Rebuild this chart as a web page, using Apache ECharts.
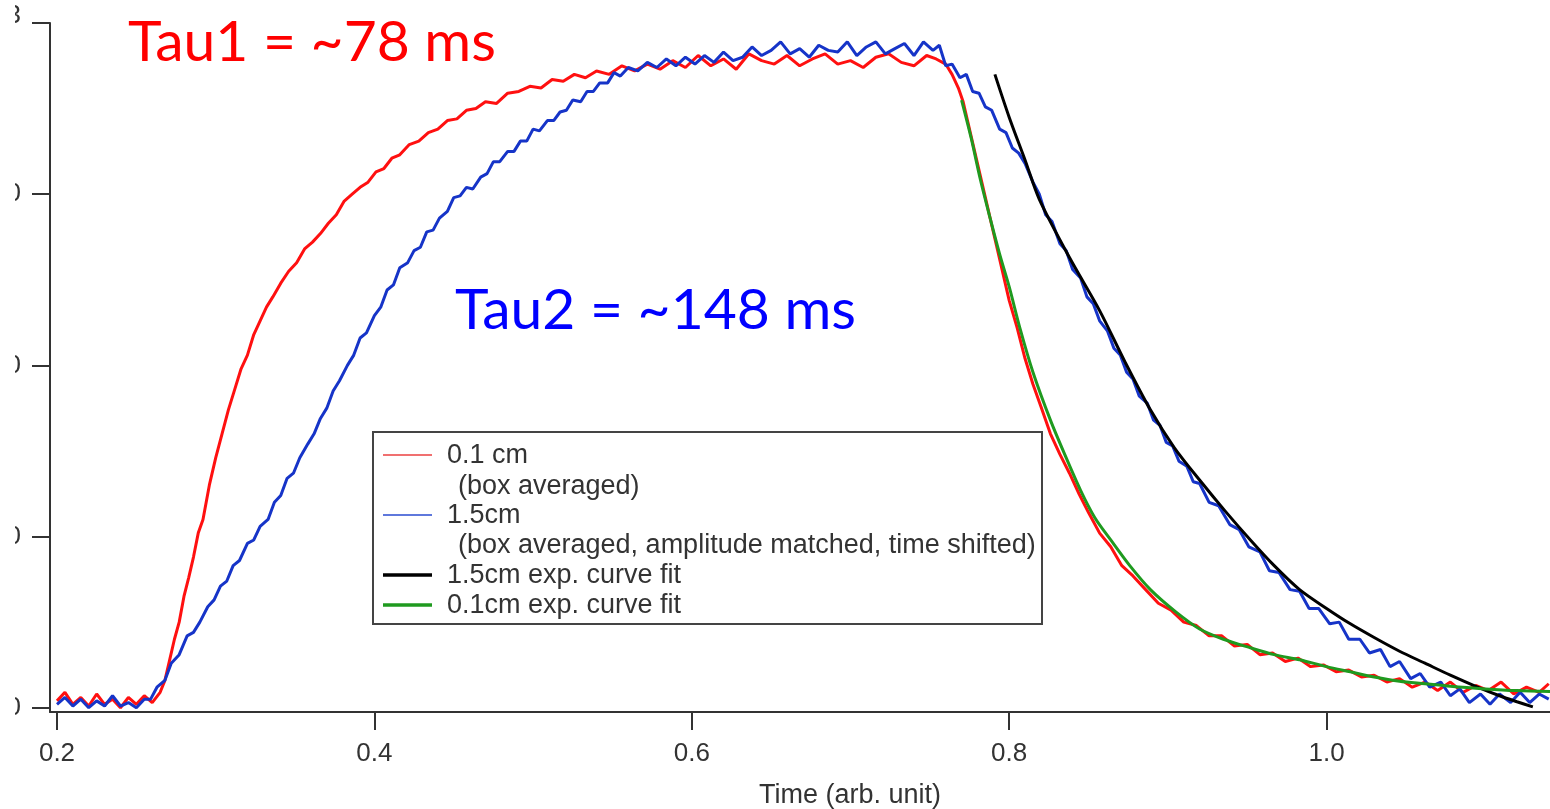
<!DOCTYPE html>
<html><head><meta charset="utf-8">
<script src="https://cdn.jsdelivr.net/npm/echarts@6/dist/echarts.min.js"></script>
<style>html,body{margin:0;padding:0;background:#fff;overflow:hidden}
#c{position:absolute;left:15px;top:0;width:1535px;height:809px}</style>
</head><body><div id="c"></div>
<script>
// ---- data ----
const xTicks = [0.2, 0.4, 0.6, 0.8, 1.0];
const xTickLabels = ['0.2', '0.4', '0.6', '0.8', '1.0'];
const yTicks = [0, 10, 20, 30, 40];
const yTickLabels = ['0', '10', '20', '30', '3'];
const xTitle = 'Time (arb. unit)';

const red01 = [
[0.200,0.4],[0.205,0.9],[0.210,0.2],[0.215,0.6],[0.220,0.1],[0.225,0.8],[0.230,0.2],[0.235,0.5],[0.240,0.0],[0.245,0.6],[0.250,0.2],[0.255,0.7],[0.260,0.3],[0.265,0.9],
[0.268,1.6],[0.271,2.8],[0.274,4.0],[0.277,5.0],[0.280,6.5],[0.283,7.6],[0.286,8.8],[0.289,10.2],[0.292,11.0],[0.296,13.0],[0.300,14.6],[0.304,16.0],[0.308,17.4],[0.312,18.6],[0.316,19.8],[0.320,20.6],[0.324,21.8],[0.328,22.6],[0.332,23.4],[0.336,24.0],[0.341,24.8],[0.346,25.5],[0.351,26.0],[0.356,26.8],[0.361,27.2],[0.366,27.7],[0.371,28.3],[0.376,28.8],[0.381,29.6],[0.386,30.0],[0.391,30.4],[0.396,30.7],[0.401,31.3],[0.406,31.5],[0.411,32.1],[0.416,32.3],[0.422,32.9],[0.428,33.1],[0.434,33.6],[0.440,33.8],[0.446,34.3],[0.452,34.4],[0.458,34.9],[0.464,35.0],[0.470,35.4],[0.477,35.3],[0.484,35.9],[0.491,36.0],[0.498,36.3],[0.505,36.2],[0.512,36.7],[0.519,36.6],[0.526,37.0],[0.533,36.8],[0.540,37.2],[0.548,37.0],[0.556,37.5],[0.564,37.2],[0.572,37.6],[0.580,37.3],[0.588,37.8],[0.596,37.4],[0.604,38.1],[0.612,37.5],[0.620,37.9],[0.628,37.3],[0.636,38.2],[0.644,37.8],[0.652,37.6],[0.660,38.1],[0.668,37.5],[0.676,37.9],[0.684,38.2],[0.692,37.6],[0.700,37.8],[0.708,37.4],[0.716,38.0],[0.724,38.2],[0.732,37.7],[0.740,37.5],[0.748,38.1],[0.754,37.9],[0.760,37.6],
[0.764,37.0],[0.768,36.2],[0.771,35.4],[0.774,34.2],[0.777,33.0],[0.780,31.8],[0.783,30.6],[0.786,29.4],[0.789,28.2],[0.792,27.0],[0.796,25.4],[0.800,23.8],[0.805,22.2],[0.810,20.4],[0.815,18.9],[0.820,17.6],[0.826,16.0],[0.832,14.8],[0.838,13.7],[0.844,12.5],[0.850,11.4],[0.857,10.2],[0.864,9.4],[0.871,8.3],[0.878,7.7],[0.886,6.9],[0.894,6.1],[0.902,5.7],[0.910,5.0],[0.918,4.8],[0.926,4.2],[0.934,4.2],[0.942,3.6],[0.950,3.7],[0.958,3.1],[0.966,3.2],[0.974,2.7],[0.982,2.9],[0.990,2.4],[0.998,2.5],[1.006,2.1],[1.014,2.2],[1.022,1.8],[1.030,1.9],[1.038,1.5],[1.046,1.7],[1.054,1.2],[1.062,1.5],[1.070,1.0],[1.078,1.5],[1.086,0.9],[1.094,1.3],[1.102,1.0],[1.110,1.5],[1.118,0.8],[1.126,1.2],[1.134,0.9],[1.140,1.4]
];

const blue15 = [
[0.200,0.2],[0.205,0.6],[0.210,0.1],[0.215,0.5],[0.220,0.0],[0.225,0.4],[0.230,0.1],[0.235,0.7],[0.240,0.1],[0.245,0.3],[0.250,0.0],[0.255,0.5],
[0.259,0.5],[0.263,1.2],[0.268,1.6],[0.272,2.6],[0.277,3.1],[0.282,4.2],[0.286,4.4],[0.290,5.0],[0.295,5.9],[0.299,6.3],[0.303,7.1],[0.307,7.4],[0.311,8.3],[0.315,8.6],[0.320,9.6],[0.324,9.8],[0.328,10.6],[0.333,11.0],[0.337,12.0],[0.341,12.4],[0.345,13.4],[0.349,13.7],[0.353,14.6],[0.358,15.4],[0.362,16.0],[0.366,16.9],[0.370,17.5],[0.374,18.5],[0.378,19.1],[0.383,20.0],[0.387,20.6],[0.391,21.6],[0.395,21.9],[0.400,22.9],[0.404,23.4],[0.408,24.4],[0.412,24.7],[0.416,25.7],[0.421,26.0],[0.425,26.7],[0.429,26.9],[0.433,27.8],[0.437,27.9],[0.441,28.6],[0.446,29.0],[0.450,29.8],[0.454,29.9],[0.458,30.4],[0.462,30.3],[0.467,31.0],[0.471,31.2],[0.475,31.9],[0.479,31.9],[0.484,32.5],[0.488,32.5],[0.492,33.1],[0.496,33.1],[0.500,33.8],[0.504,33.7],[0.509,34.3],[0.513,34.3],[0.517,34.8],[0.521,34.9],[0.525,35.5],[0.530,35.4],[0.534,36.0],[0.538,36.0],[0.542,36.5],[0.547,36.5],[0.551,37.1],[0.555,36.9],[0.560,37.4],[0.566,37.2],[0.572,37.7],[0.578,37.4],[0.584,37.9],[0.590,37.5],[0.596,38.0],[0.602,37.6],[0.608,38.1],[0.614,37.7],[0.620,38.3],[0.626,37.8],[0.632,38.0],[0.638,38.6],[0.644,38.1],[0.650,38.4],[0.656,38.9],[0.662,38.2],[0.668,38.5],[0.674,38.0],[0.680,38.7],[0.686,38.4],[0.692,38.3],[0.698,38.9],[0.704,38.1],[0.710,38.6],[0.716,38.9],[0.722,38.2],[0.728,38.5],[0.734,38.8],[0.740,38.1],[0.746,38.9],[0.752,38.4],[0.756,38.7],
[0.760,37.5],[0.764,37.6],[0.769,36.8],[0.773,37.0],[0.777,36.0],[0.781,35.9],[0.785,35.1],[0.789,34.9],[0.794,33.8],[0.798,33.6],[0.802,32.7],[0.806,32.4],[0.810,31.8],[0.815,30.7],[0.819,30.0],[0.823,28.8],[0.827,28.4],[0.832,27.1],[0.836,26.7],[0.840,25.6],[0.845,25.1],[0.849,24.0],[0.853,23.6],[0.857,22.6],[0.862,22.0],[0.866,21.0],[0.870,20.6],[0.874,19.6],[0.878,19.2],[0.882,18.2],[0.887,17.8],[0.891,16.8],[0.895,16.5],[0.899,15.5],[0.903,15.3],[0.907,14.4],[0.912,14.1],[0.916,13.2],[0.920,13.1],[0.926,12.0],[0.932,11.8],[0.939,10.7],[0.945,10.4],[0.951,9.4],[0.958,9.1],[0.964,8.0],[0.970,7.9],[0.977,6.9],[0.983,6.8],[0.989,5.8],[0.995,5.8],[1.002,4.9],[1.008,5.0],[1.014,4.0],[1.021,4.0],[1.027,3.2],[1.034,3.4],[1.040,2.4],[1.046,2.7],[1.053,1.7],[1.059,2.0],[1.065,1.2],[1.072,1.5],[1.078,0.7],[1.084,1.1],[1.090,0.3],[1.097,0.8],[1.103,0.2],[1.109,0.8],[1.116,0.3],[1.122,0.9],[1.128,0.3],[1.134,0.8],[1.140,0.5]
];

const fit15 = [
[0.791,37.0],[0.800,34.5],[0.810,32.0],[0.819,29.7],[0.838,26.3],[0.857,23.2],[0.873,20.2],[0.889,17.4],[0.904,15.2],[0.920,13.3],[0.936,11.5],[0.952,9.8],[0.967,8.3],[0.983,6.9],[1.000,5.8],[1.015,4.9],[1.030,4.1],[1.046,3.3],[1.062,2.6],[1.078,1.9],[1.094,1.25],[1.109,0.7],[1.120,0.35],[1.130,0.05]
];

const fit01 = [
[0.770,35.5],[0.776,33.3],[0.782,30.8],[0.788,28.6],[0.794,26.5],[0.800,24.6],[0.807,22.1],[0.815,19.6],[0.826,16.8],[0.835,14.8],[0.845,12.7],[0.854,11.1],[0.864,9.8],[0.876,8.3],[0.889,6.9],[0.905,5.6],[0.920,4.6],[0.935,4.0],[0.952,3.5],[0.967,3.1],[0.983,2.8],[1.000,2.4],[1.015,2.1],[1.030,1.8],[1.046,1.55],[1.062,1.4],[1.078,1.25],[1.100,1.1],[1.120,1.0],[1.141,0.95]
];

const seriesNames = ['0.1 cm', '1.5cm', '1.5cm exp. curve fit', '0.1cm exp. curve fit'];
const seriesSub = ['(box averaged)', '(box averaged, amplitude matched, time shifted)', '', ''];
const annotations = ['Tau1 = ~78 ms', 'Tau2 = ~148 ms'];

// ---- chart ----
const OX = 15; // container offset from window
const chart = echarts.init(document.getElementById('c'), null, {renderer: 'canvas'});
const axisFont = {fontFamily: 'Liberation Sans, Arial, sans-serif', fontSize: 26, color: '#333'};
const legendFont = '27px "Liberation Sans", Arial, sans-serif';

function legendLine(y, color, w) {
  return {type: 'line', z: 101, shape: {x1: 383 - OX, y1: y, x2: 432 - OX, y2: y}, style: {stroke: color, lineWidth: w}};
}
function legendText(x, y, t) {
  return {type: 'text', z: 101, x: x - OX, y: y, style: {text: t, font: legendFont, fill: '#333', textVerticalAlign: 'middle', textAlign: 'left'}};
}

chart.setOption({
  animation: false,
  backgroundColor: '#fff',
  grid: {left: 50 - OX, right: 0, top: 23, bottom: 97, containLabel: false, outerBoundsMode: 'none'},
  xAxis: {
    type: 'value', min: 0.19559, max: 1.1408,
    name: xTitle, nameLocation: 'middle', nameGap: 70,
    nameTextStyle: {fontFamily: 'Liberation Sans, Arial, sans-serif', fontSize: 27, color: '#333', padding: [0, 0, 0, 100]},
    axisLine: {show: true, onZero: false, lineStyle: {color: '#333', width: 2}},
    axisTick: {show: true, length: 18, inside: false, customValues: xTicks, lineStyle: {color: '#333', width: 2}},
    axisLabel: {show: true, customValues: xTicks, margin: 29, ...axisFont,
      formatter: v => { const i = xTicks.findIndex(t => Math.abs(t - v) < 1e-6); return i >= 0 ? xTickLabels[i] : ''; }},
    splitLine: {show: false}
  },
  yAxis: {
    type: 'value', min: -0.25, max: 40,
    axisLine: {show: true, onZero: false, lineStyle: {color: '#333', width: 2}},
    axisTick: {show: true, length: 18, inside: false, customValues: yTicks, lineStyle: {color: '#333', width: 2}},
    axisLabel: {show: true, customValues: yTicks, margin: 29, ...axisFont,
      formatter: v => { const i = yTicks.findIndex(t => Math.abs(t - v) < 1e-6); if (i < 0) return ''; return i === yTicks.length - 1 ? '{up|' + yTickLabels[i] + '}' : yTickLabels[i]; },
      rich: {up: {fontFamily: 'Liberation Sans, Arial, sans-serif', fontSize: 26, color: '#333', padding: [0, 0, 14, 0]}}},
    splitLine: {show: false}
  },
  series: [
    {name: seriesNames[0], type: 'line', data: red01, showSymbol: false, symbol: 'none', z: 2, lineStyle: {color: '#ff1010', width: 3}, itemStyle: {color: '#ff1010'}},
    {name: seriesNames[1], type: 'line', data: blue15, showSymbol: false, symbol: 'none', z: 3, lineStyle: {color: '#1634c8', width: 3}, itemStyle: {color: '#1634c8'}},
    {name: seriesNames[2], type: 'line', data: fit15, showSymbol: false, symbol: 'none', z: 4, smooth: 0.3, lineStyle: {color: '#000', width: 3}, itemStyle: {color: '#000'}},
    {name: seriesNames[3], type: 'line', data: fit01, showSymbol: false, symbol: 'none', z: 5, smooth: 0.3, lineStyle: {color: '#1f9a1f', width: 3}, itemStyle: {color: '#1f9a1f'}}
  ],
  graphic: [
    {type: 'text', z: 100, x: 128 - OX, y: 43, style: {text: annotations[0], font: '57px Lato, "Open Sans", sans-serif', fill: '#ff0000', textVerticalAlign: 'middle'}},
    {type: 'text', z: 100, x: 455 - OX, y: 311, style: {text: annotations[1], font: '57px Lato, "Open Sans", sans-serif', fill: '#0000ff', textVerticalAlign: 'middle'}},
    {type: 'rect', z: 100, shape: {x: 373 - OX, y: 432, width: 669, height: 192}, style: {fill: '#fff', stroke: '#444', lineWidth: 2}},
    legendLine(455, '#f07070', 2),
    legendText(447, 456, seriesNames[0]),
    legendText(458, 487, seriesSub[0]),
    legendLine(515, '#2a4bd0', 1.5),
    legendText(447, 516, seriesNames[1]),
    legendText(458, 546, seriesSub[1]),
    legendLine(575, '#000', 3.5),
    legendText(447, 576, seriesNames[2]),
    legendLine(605, '#1f9a1f', 3.5),
    legendText(447, 606, seriesNames[3])
  ]
});
</script></body></html>
